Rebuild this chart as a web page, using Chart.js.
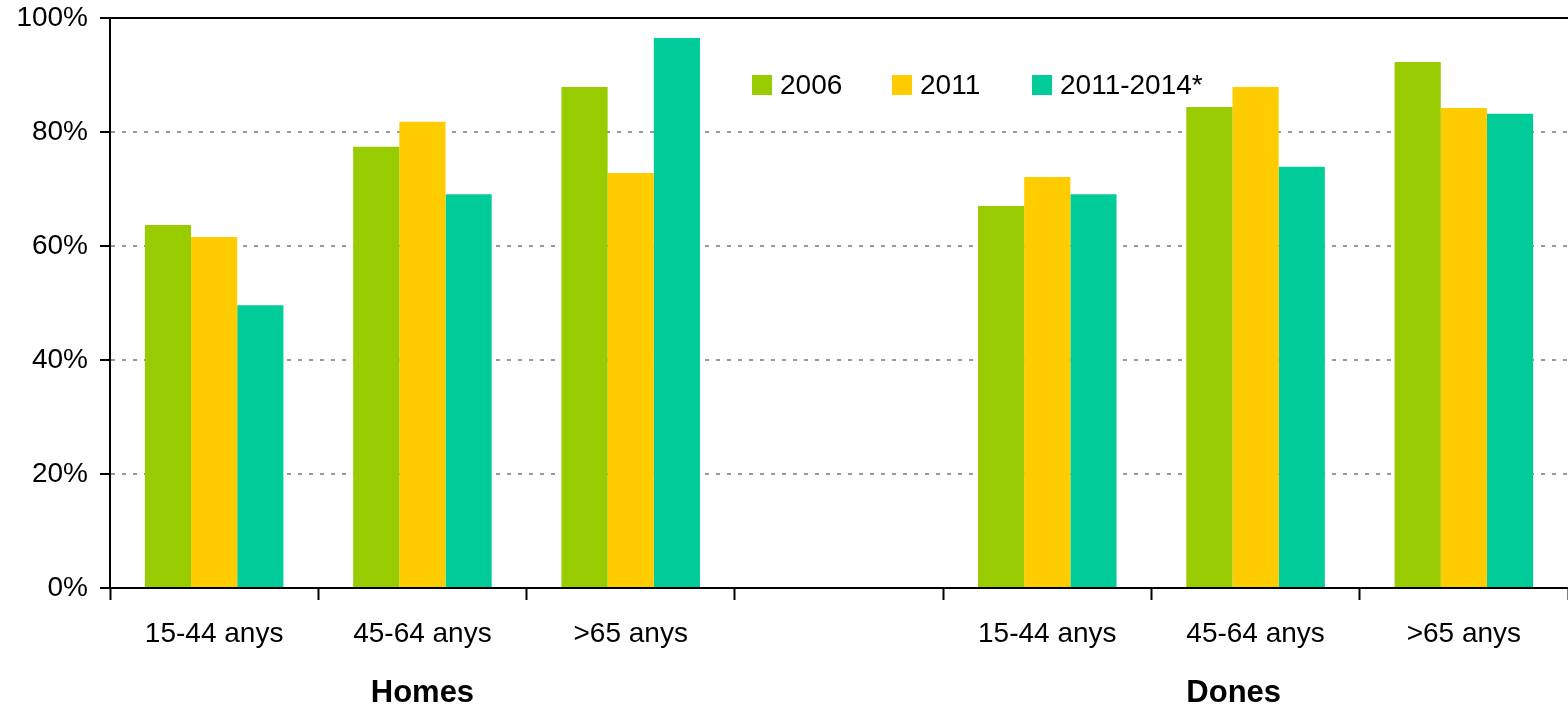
<!DOCTYPE html>
<html>
<head>
<meta charset="utf-8">
<script src="https://cdn.jsdelivr.net/npm/chart.js@4.4.0/dist/chart.umd.min.js"></script>
<style>
  html, body { margin: 0; padding: 0; background: #fff; }
  #wrap { width: 1568px; height: 710px; }
</style>
</head>
<body>
<div id="wrap"><canvas id="chart" width="1568" height="710"></canvas></div>
<script>
// Data
const categories = ['15-44 anys', '45-64 anys', '>65 anys', '', '15-44 anys', '45-64 anys', '>65 anys'];
const groupLabels = ['Homes', 'Dones'];
const groupIndex = [1, 5];
const groupAlign = ['center', 'left'];
const seriesNames = ['2006', '2011', '2011-2014*'];
const values2006 = [63.7, 77.4, 87.9, null, 67.0, 84.4, 92.3];
const values2011 = [61.6, 81.8, 72.8, null, 72.1, 87.9, 84.2];
const values2014 = [49.6, 69.1, 96.5, null, 69.1, 73.9, 83.2];
const yTicks = [0, 20, 40, 60, 80, 100];

const colors = ['#99CC00', '#FFCC00', '#00CC99'];
const font = "'Liberation Sans', Arial, sans-serif";

// legend inside the plot, the solid top line at 100% and the group titles
const extras = {
  id: 'extras',
  afterDraw(chart) {
    const ctx = chart.ctx;
    const x = chart.scales.x;
    const y = chart.scales.y;
    const area = chart.chartArea;
    ctx.save();
    ctx.strokeStyle = '#000';
    ctx.lineWidth = 2;
    ctx.beginPath();
    ctx.moveTo(area.left, y.getPixelForValue(100));
    ctx.lineTo(area.right, y.getPixelForValue(100));
    ctx.stroke();

    ctx.font = '28px ' + font;
    ctx.textBaseline = 'middle';
    ctx.textAlign = 'left';
    chart.data.datasets.forEach((ds, i) => {
      const lx = 752 + i * 140;
      ctx.fillStyle = ds.backgroundColor;
      ctx.fillRect(lx, 75, 20, 20);
      ctx.fillStyle = '#000';
      ctx.fillText(ds.label, lx + 28, 86);
    });

    // group titles under the tick labels
    groupLabels.forEach((g, i) => {
      const idx = groupIndex[i];
      let gx = x.getPixelForValue(idx);
      if (groupAlign[i] === 'left') {
        ctx.font = '28px ' + font;
        gx -= ctx.measureText(categories[idx]).width / 2;
      }
      ctx.font = 'bold 31px ' + font;
      ctx.textAlign = groupAlign[i];
      ctx.fillStyle = '#000';
      ctx.fillText(g, gx, 693);
    });
    ctx.restore();
  }
};

new Chart(document.getElementById('chart'), {
  type: 'bar',
  data: {
    labels: categories,
    datasets: [
      { label: seriesNames[0], data: values2006, backgroundColor: colors[0] },
      { label: seriesNames[1], data: values2011, backgroundColor: colors[1] },
      { label: seriesNames[2], data: values2014, backgroundColor: colors[2] }
    ]
  },
  options: {
    responsive: false,
    animation: false,
    layout: { padding: { top: 18, left: 0, right: 0, bottom: 60 } },
    datasets: { bar: { categoryPercentage: 0.665, barPercentage: 1.0 } },
    plugins: { legend: { display: false }, tooltip: { enabled: false } },
    scales: {
      x: {
        afterFit(scale) { scale.height = 62; },
        grid: { offset: true, drawOnChartArea: false, tickLength: 12, tickColor: '#000', tickWidth: 2 },
        border: { color: '#000', width: 2 },
        ticks: { color: '#000', padding: 17, maxRotation: 0, autoSkip: false, font: { family: font, size: 28 } }
      },
      y: {
        min: 0,
        max: 100,
        afterFit(scale) {
          scale.width = 110;
          scale.paddingTop = 0;
          scale.paddingBottom = 0;
        },
        afterBuildTicks(scale) { scale.ticks = yTicks.map(v => ({ value: v })); },
        grid: {
          color: c => (c.tick && (c.tick.value === 0 || c.tick.value === 100)) ? 'rgba(0,0,0,0)' : '#999999',
          lineWidth: 2,
          tickLength: 10,
          tickColor: '#000',
          tickWidth: 2
        },
        border: { color: '#000', width: 2, dash: [4, 7] },
        ticks: {
          color: '#000',
          padding: 12,
          font: { family: font, size: 28 },
          callback: v => v + '%'
        }
      }
    }
  },
  plugins: [extras]
});
</script>
</body>
</html>
